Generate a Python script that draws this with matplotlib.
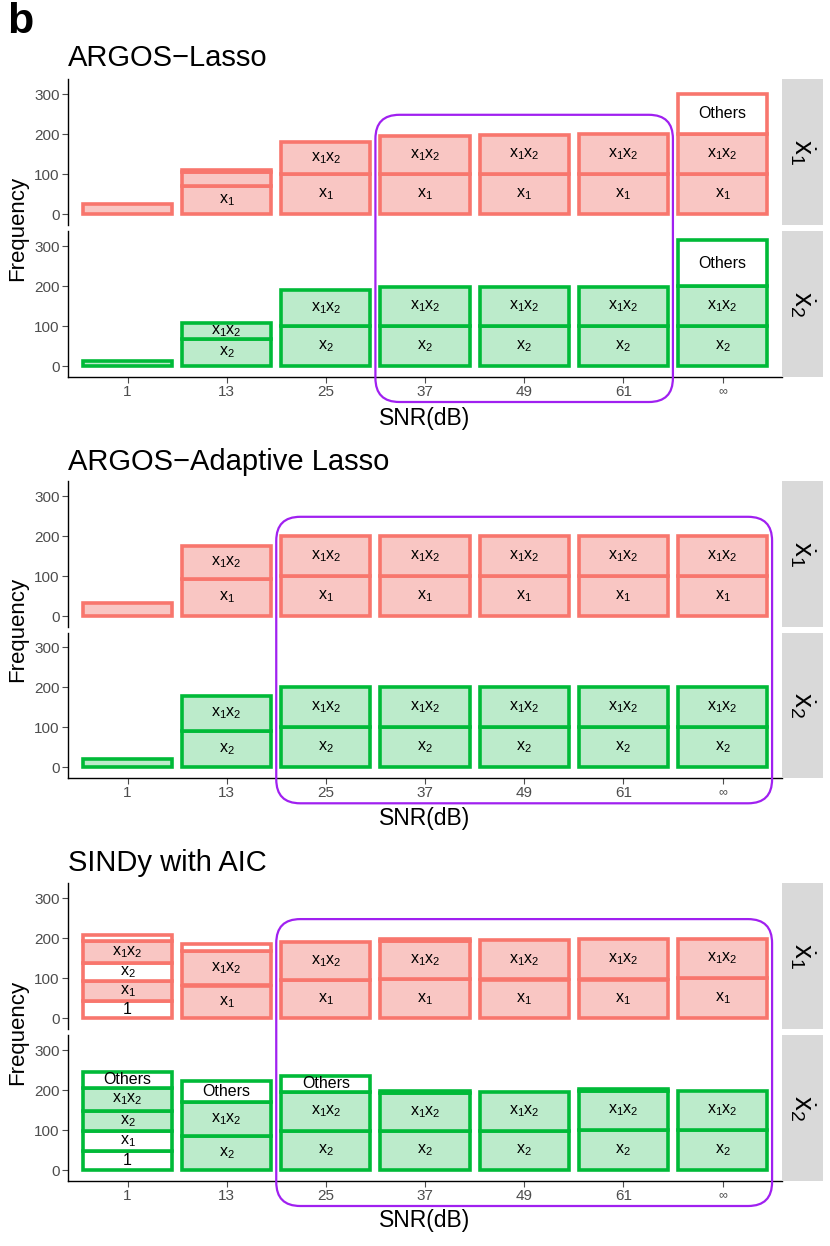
"""
Stacked term-frequency bars for three model selection methods, faceted by equation.
"""

import matplotlib
matplotlib.use("Agg")
import matplotlib.pyplot as plt
from matplotlib.patches import FancyBboxPatch
from matplotlib.transforms import IdentityTransform

plt.rcParams["font.family"] = ["Liberation Sans", "DejaVu Sans"]
plt.rcParams["mathtext.fontset"] = "custom"
plt.rcParams["mathtext.rm"] = "Liberation Sans"
plt.rcParams["mathtext.it"] = "Liberation Sans:italic"
plt.rcParams["mathtext.bf"] = "Liberation Sans:bold"

# Data.
snr_labels = ["1", "13", "25", "37", "49", "61", "\u221e"]
method_titles = ["ARGOS\u2212Lasso", "ARGOS\u2212Adaptive Lasso", "SINDy with AIC"]

# Terms of each stacked bar, bottom to top, and their counts.
lasso_x1_terms = [["x1"], ["x1", "x1x2", "Others"], ["x1", "x1x2"], ["x1", "x1x2"],
                  ["x1", "x1x2"], ["x1", "x1x2"], ["x1", "x1x2", "Others"]]
lasso_x1_counts = [[25], [70, 35, 4], [100, 79], [100, 96], [100, 98], [100, 100], [100, 100, 100]]
lasso_x2_terms = [["x2"], ["x2", "x1x2"], ["x2", "x1x2"], ["x2", "x1x2"],
                  ["x2", "x1x2"], ["x2", "x1x2"], ["x2", "x1x2", "Others"]]
lasso_x2_counts = [[13], [67, 40], [100, 89], [100, 98], [100, 98], [100, 98], [100, 100, 114]]

alasso_x1_terms = [["x1"], ["x1", "x1x2"], ["x1", "x1x2"], ["x1", "x1x2"],
                   ["x1", "x1x2"], ["x1", "x1x2"], ["x1", "x1x2"]]
alasso_x1_counts = [[32], [93, 82], [100, 100], [100, 100], [100, 100], [100, 100], [100, 100]]
alasso_x2_terms = [["x2"], ["x2", "x1x2"], ["x2", "x1x2"], ["x2", "x1x2"],
                   ["x2", "x1x2"], ["x2", "x1x2"], ["x2", "x1x2"]]
alasso_x2_counts = [[22], [92, 87], [100, 100], [100, 100], [100, 100], [100, 100], [100, 100]]

sindy_x1_terms = [["1", "x1", "x2", "x1x2", "Others"], ["x1", "x1x2", "Others"], ["x1", "x1x2"],
                  ["x1", "x1x2", "Others"], ["x1", "x1x2"], ["x1", "x1x2"], ["x1", "x1x2"]]
sindy_x1_counts = [[44, 50, 44, 54, 15], [82, 85, 19], [96, 94], [98, 96, 3], [97, 98], [97, 100], [100, 99]]
sindy_x2_terms = [["1", "x1", "x2", "x1x2", "Others"], ["x2", "x1x2", "Others"], ["x2", "x1x2", "Others"],
                  ["x2", "x1x2", "Others"], ["x2", "x1x2"], ["x2", "x1x2", "Others"], ["x2", "x1x2"]]
sindy_x2_counts = [[48, 49, 51, 58, 40], [85, 86, 52], [98, 96, 42], [98, 95, 4], [98, 98], [100, 98, 5], [100, 98]]

methods = [
    (lasso_x1_terms, lasso_x1_counts, lasso_x2_terms, lasso_x2_counts),
    (alasso_x1_terms, alasso_x1_counts, alasso_x2_terms, alasso_x2_counts),
    (sindy_x1_terms, sindy_x1_counts, sindy_x2_terms, sindy_x2_counts),
]

# Correct terms of each equation get a coloured fill.
correct_x1 = ["x1", "x1x2"]
correct_x2 = ["x2", "x1x2"]

term_text = {
    "x1": r"$\mathrm{x_1}$",
    "x2": r"$\mathrm{x_2}$",
    "x1x2": r"$\mathrm{x_1x_2}$",
    "1": "1",
    "Others": "Others",
}

# Styling / layout (pixels).
W, H = 830, 1246
AX_LEFT, AX_WIDTH, AX_HEIGHT = 68, 714, 145.6
STRIP_WIDTH = 41
panel_tops = [(79.2, 231.2), (481.2, 632.5), (883.5, 1035.2)]
title_y = [58, 462, 863]
xlabel_y = [418, 819, 1221]
box_x = [(2.5, 5.5), (1.5, 6.5), (1.5, 6.5)]
RED_EDGE, RED_FILL = "#F8766D", "#F9C6C3"
GREEN_EDGE, GREEN_FILL = "#00BA38", "#BCEBCB"
PURPLE = "#A020F0"
GREY_TXT = "#4D4D4D"


def px_rect(left, top, width, height):
    return [left / W, 1 - (top + height) / H, width / W, height / H]


def draw_facet(ax, terms, counts, correct, edge, fill):
    for i in range(len(snr_labels)):
        bottom = 0
        for term, n in zip(terms[i], counts[i]):
            face = fill if term in correct else "white"
            ax.bar(i, n, bottom=bottom, width=0.9, color=face, edgecolor=edge, linewidth=2.6)
            if n >= 38:
                ax.text(i, bottom + n / 2, term_text[term], ha="center", va="center",
                        fontsize=11.5, color="black")
            bottom += n


fig = plt.figure(figsize=(W / 100, H / 100), dpi=100)

for p, (x1_terms, x1_counts, x2_terms, x2_counts) in enumerate(methods):
    axes = []
    facets = [
        (x1_terms, x1_counts, correct_x1, RED_EDGE, RED_FILL, r"$\dot{\mathrm{x}}_1$"),
        (x2_terms, x2_counts, correct_x2, GREEN_EDGE, GREEN_FILL, r"$\dot{\mathrm{x}}_2$"),
    ]
    for f, (terms, counts, correct, edge, fill, strip_label) in enumerate(facets):
        top = panel_tops[p][f]
        ax = fig.add_axes(px_rect(AX_LEFT, top, AX_WIDTH, AX_HEIGHT))
        draw_facet(ax, terms, counts, correct, edge, fill)
        ax.set_xlim(-0.6, 6.6)
        ax.set_ylim(-27, 337)
        ax.set_yticks([0, 100, 200, 300])
        ax.tick_params(axis="y", colors=GREY_TXT, labelsize=11, length=4, width=0.8, pad=2)
        ax.spines["top"].set_visible(False)
        ax.spines["right"].set_visible(False)
        ax.spines["left"].set_linewidth(1.0)
        ax.spines["bottom"].set_linewidth(1.0)
        if f == 0:
            ax.spines["bottom"].set_visible(False)
            ax.set_xticks([])
        else:
            ax.set_xticks(range(len(snr_labels)))
            ax.set_xticklabels(snr_labels)
            ax.tick_params(axis="x", colors=GREY_TXT, labelsize=11, length=4, width=0.8, pad=2)
            ax.get_xticklabels()[-1].set_fontsize(9)

        # Facet strip on the right.
        sax = fig.add_axes(px_rect(AX_LEFT + AX_WIDTH, top, STRIP_WIDTH, AX_HEIGHT))
        sax.set_facecolor("#D9D9D9")
        sax.set_xticks([])
        sax.set_yticks([])
        for s in sax.spines.values():
            s.set_visible(False)
        sax.text(0.5, 0.5, strip_label, rotation=-90, ha="center", va="center",
                 fontsize=20, transform=sax.transAxes)
        axes.append(ax)

    # Titles and axis labels.
    fig.text(AX_LEFT / W, 1 - title_y[p] / H, method_titles[p], fontsize=21,
             ha="left", va="center")
    fig.text((AX_LEFT + AX_WIDTH / 2) / W, 1 - xlabel_y[p] / H, "SNR(dB)", fontsize=16.5,
             ha="center", va="center")
    mid = (panel_tops[p][0] + panel_tops[p][1] + AX_HEIGHT) / 2
    fig.text(18 / W, 1 - mid / H, "Frequency", fontsize=16, rotation=90,
             ha="center", va="center")

    # Rounded highlight box spanning both facets.
    x0, y0 = axes[1].transData.transform((box_x[p][0], -90))
    x1, y1 = axes[0].transData.transform((box_x[p][1], 248))
    box = FancyBboxPatch((x0, y0), x1 - x0, y1 - y0,
                         boxstyle="round,pad=0,rounding_size=24",
                         fill=False, edgecolor=PURPLE, linewidth=1.6,
                         transform=IdentityTransform(), zorder=5)
    fig.add_artist(box)

fig.text(20 / W, 1 - 22 / H, "b", fontsize=31, fontweight="bold", ha="center", va="center")

fig.savefig("out.png", dpi=100)
